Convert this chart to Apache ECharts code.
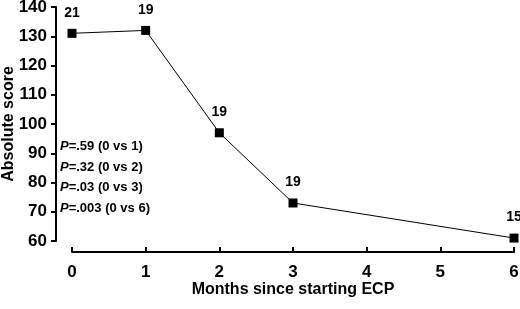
<!DOCTYPE html>
<html>
<head>
<meta charset="utf-8">
<script src="https://cdn.jsdelivr.net/npm/echarts@6/dist/echarts.min.js"></script>
<style>
  html, body { margin: 0; padding: 0; background: #fff; }
  #chart { width: 520px; height: 309px; }
</style>
</head>
<body>
<div id="chart"></div>
<script>
let months = [0, 1, 2, 3, 6];
let scores = [131, 132, 97, 73, 61];
let counts = ['21', '19', '19', '19', '15'];
let pValues = ['.59', '.32', '.03', '.003'];
let pLabels = ['(0 vs 1)', '(0 vs 2)', '(0 vs 3)', '(0 vs 6)'];

let myChart = echarts.init(document.getElementById('chart'));
let font = 'Liberation Sans, Arial, sans-serif';

let seriesData = [];
for (let i = 0; i < months.length; i++) {
    seriesData.push({value: [months[i], scores[i]], label: {formatter: counts[i]}});
}

let pTexts = [];
for (let i = 0; i < pValues.length; i++) {
    pTexts.push({
        type: 'text',
        left: 60,
        top: 140 + i * 20.5,
        style: {
            text: '{p|P}{v|=' + pValues[i] + ' ' + pLabels[i] + '}',
            rich: {
                p: {fontFamily: font, fontSize: 13, fontWeight: 'bold', fontStyle: 'italic', fill: '#000'},
                v: {fontFamily: font, fontSize: 13, fontWeight: 'bold', fill: '#000'}
            }
        }
    });
}

let option = {
    animation: false,
    backgroundColor: '#fff',
    grid: {left: 72, right: 6, top: 7, bottom: 68, outerBoundsMode: 'none', containLabel: false},
    xAxis: {
        type: 'value',
        min: 0,
        max: 6,
        interval: 1,
        offset: 11,
        name: 'Months since starting ECP',
        nameLocation: 'middle',
        nameGap: 30,
        nameMoveOverlap: false,
        nameTextStyle: {fontFamily: font, fontSize: 16, fontWeight: 'bold', color: '#000'},
        axisLine: {onZero: false, lineStyle: {color: '#000', width: 2}},
        axisTick: {inside: true, length: 5, lineStyle: {color: '#000', width: 2}},
        axisLabel: {fontFamily: font, fontSize: 17, fontWeight: 'bold', color: '#000', margin: 12},
        splitLine: {show: false}
    },
    yAxis: {
        type: 'value',
        min: 60,
        max: 140,
        interval: 10,
        offset: 16,
        name: 'Absolute score',
        nameLocation: 'middle',
        nameGap: 39,
        nameMoveOverlap: false,
        nameTextStyle: {fontFamily: font, fontSize: 16, fontWeight: 'bold', color: '#000'},
        axisLine: {show: true, onZero: false, lineStyle: {color: '#000', width: 2}},
        axisTick: {show: true, length: 5, lineStyle: {color: '#000', width: 2}},
        axisLabel: {fontFamily: font, fontSize: 17, fontWeight: 'bold', color: '#000', margin: 9},
        splitLine: {show: false}
    },
    series: [{
        type: 'line',
        data: seriesData,
        symbol: 'rect',
        symbolSize: 9,
        itemStyle: {color: '#000'},
        lineStyle: {color: '#000', width: 1},
        label: {
            show: true,
            position: 'top',
            distance: 9,
            fontFamily: font,
            fontSize: 14,
            fontWeight: 'bold',
            color: '#000'
        }
    }],
    graphic: pTexts
};

myChart.setOption(option);
</script>
</body>
</html>
